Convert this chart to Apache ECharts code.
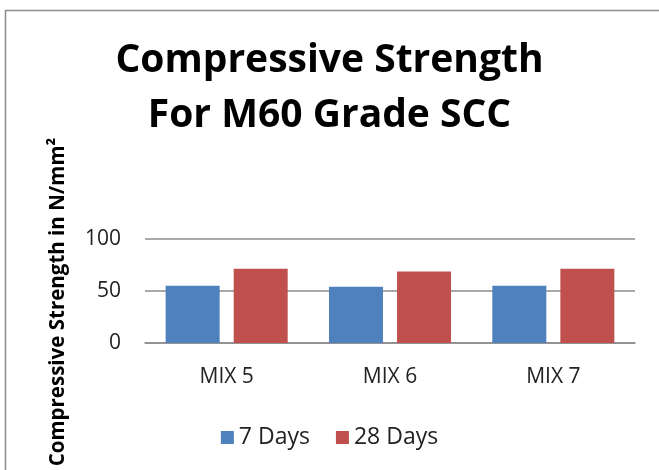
<!DOCTYPE html>
<html>
<head>
<meta charset="utf-8">
<script src="https://cdn.jsdelivr.net/npm/echarts@6/dist/echarts.min.js"></script>
<style>
html,body{margin:0;padding:0;background:#fff;}
#box{width:659px;height:470px;}
</style>
</head>
<body>
<div id="box"></div>
<script>
var categories = ['MIX 5', 'MIX 6', 'MIX 7'];
var days7 = [55.1, 54.1, 55.1];
var days28 = [71.3, 68.8, 71.3];
var yTicks = [0, 50, 100];

var mychar = echarts.init(document.getElementById('box'));
var font = '"Open Sans", "Liberation Sans", sans-serif';
var option = {
    animation: false,
    backgroundColor: '#fff',
    title: {
        text: 'Compressive Strength\nFor M60 Grade SCC',
        left: 'center',
        top: 28,
        textStyle: {
            fontFamily: font,
            fontSize: 39,
            fontWeight: 'bold',
            color: '#000',
            lineHeight: 55
        }
    },
    graphic: [{
        type: 'rect',
        shape: {x: 5.5, y: 10.5, width: 700, height: 500},
        style: {fill: 'none', stroke: '#8c8c8c', lineWidth: 1.5},
        silent: true
    }, {
        // y axis title, placed a little below the grid middle like the reference
        type: 'text',
        x: 58,
        y: 302,
        rotation: Math.PI / 2,
        style: {
            text: 'Compressive Strength in N/mm²',
            fontFamily: font,
            fontSize: 20.5,
            fontWeight: 'bold',
            fill: '#000',
            align: 'center',
            verticalAlign: 'middle'
        },
        silent: true
    }],
    legend: {
        top: 421,
        left: 'center',
        itemWidth: 13,
        itemHeight: 13,
        itemGap: 26,
        icon: 'rect',
        textStyle: {fontFamily: font, fontSize: 23, color: '#222'},
        data: ['7 Days', '28 Days']
    },
    grid: {left: 145, right: 24, top: 239, bottom: 127},
    xAxis: {
        type: 'category',
        data: categories,
        axisLine: {lineStyle: {color: '#8c8c8c', width: 1.5}},
        axisTick: {show: false},
        axisLabel: {fontFamily: font, fontSize: 21, color: '#222', margin: 24}
    },
    yAxis: {
        type: 'value',
        min: yTicks[0],
        max: yTicks[yTicks.length - 1],
        interval: 50,
        axisLine: {show: false},
        axisTick: {show: false},
        axisLabel: {fontFamily: font, fontSize: 21, color: '#222', margin: 24},
        splitLine: {lineStyle: {color: '#8c8c8c', width: 1.5}}
    },
    series: [{
        name: '7 Days',
        type: 'bar',
        data: days7,
        barWidth: 54,
        barGap: '26%',
        itemStyle: {color: '#4f81bd'}
    }, {
        name: '28 Days',
        type: 'bar',
        data: days28,
        barWidth: 54,
        itemStyle: {color: '#c0504d'}
    }]
};
mychar.setOption(option);
</script>
</body>
</html>
